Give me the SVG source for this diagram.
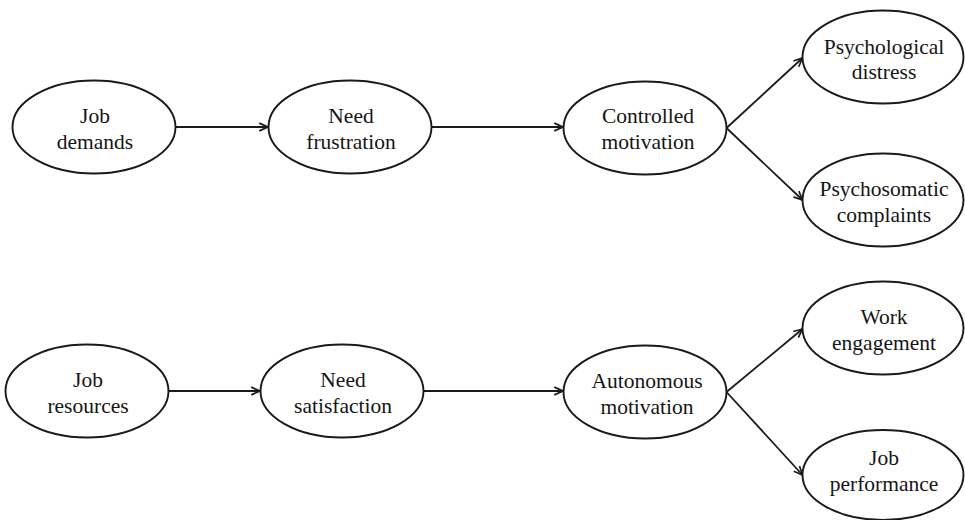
<svg xmlns="http://www.w3.org/2000/svg" width="965" height="520" viewBox="0 0 965 520">
  <defs>
    <style>
      .node ellipse { fill: #ffffff; stroke: #1a1a1a; stroke-width: 1.9; }
      .node text { font-family: "Liberation Serif", "Times New Roman", serif; font-size: 21.5px; fill: #151515; text-anchor: middle; }
      .conn line { stroke: #1a1a1a; stroke-width: 1.8; fill: none; }
      .conn line.arrow { marker-end: url(#arrow); }
    </style>
    <marker id="arrow" viewBox="0 0 10 10" refX="9.5" refY="5" markerWidth="10" markerHeight="10" markerUnits="userSpaceOnUse" orient="auto">
      <path d="M0.8,1.1 L9.5,5 L0.8,8.9" fill="none" stroke="#1a1a1a" stroke-width="1.7"/>
    </marker>
  </defs>
  <rect x="0" y="0" width="965" height="520" fill="#ffffff"/>

  <g id="connectors" class="conn">
    <line class="arrow" x1="175.5" y1="127" x2="268" y2="127"/>
    <line class="arrow" x1="431.5" y1="127" x2="563" y2="127"/>
    <line class="arrow" x1="726.5" y1="128" x2="802.5" y2="58"/>
    <line class="arrow" x1="726.5" y1="128" x2="802.5" y2="200"/>
    <line class="arrow" x1="168.5" y1="391" x2="260" y2="391"/>
    <line class="arrow" x1="423.5" y1="391" x2="563" y2="391"/>
    <line class="arrow" x1="726.5" y1="392" x2="802.5" y2="329"/>
    <line class="arrow" x1="726.5" y1="392" x2="802.5" y2="475"/>
  </g>

  <g id="job-demands" class="node">
    <ellipse cx="94" cy="127" rx="81.5" ry="46.5"/>
    <text x="95" y="123">Job</text>
    <text x="95" y="149">demands</text>
  </g>
  <g id="need-frustration" class="node">
    <ellipse cx="350" cy="127" rx="81.5" ry="46.5"/>
    <text x="351" y="123">Need</text>
    <text x="351" y="149">frustration</text>
  </g>
  <g id="controlled-motivation" class="node">
    <ellipse cx="645" cy="128" rx="81.5" ry="46.5"/>
    <text x="648" y="123">Controlled</text>
    <text x="648" y="149">motivation</text>
  </g>
  <g id="psychological-distress" class="node">
    <ellipse cx="883" cy="57" rx="80.5" ry="46.5"/>
    <text x="884" y="54">Psychological</text>
    <text x="884" y="79">distress</text>
  </g>
  <g id="psychosomatic-complaints" class="node">
    <ellipse cx="883" cy="200" rx="80.5" ry="46.5"/>
    <text x="884" y="196">Psychosomatic</text>
    <text x="884" y="222">complaints</text>
  </g>
  <g id="job-resources" class="node">
    <ellipse cx="87" cy="391" rx="81.5" ry="46.5"/>
    <text x="88" y="387">Job</text>
    <text x="88" y="413">resources</text>
  </g>
  <g id="need-satisfaction" class="node">
    <ellipse cx="342" cy="391" rx="81.5" ry="46.5"/>
    <text x="343" y="387">Need</text>
    <text x="343" y="413">satisfaction</text>
  </g>
  <g id="autonomous-motivation" class="node">
    <ellipse cx="645" cy="392" rx="81.5" ry="46.5"/>
    <text x="647" y="388">Autonomous</text>
    <text x="647" y="414">motivation</text>
  </g>
  <g id="work-engagement" class="node">
    <ellipse cx="883" cy="328" rx="80.5" ry="46.5"/>
    <text x="884" y="324">Work</text>
    <text x="884" y="350">engagement</text>
  </g>
  <g id="job-performance" class="node">
    <ellipse cx="883" cy="475" rx="80.5" ry="45"/>
    <text x="884" y="465">Job</text>
    <text x="884" y="491">performance</text>
  </g>
</svg>
